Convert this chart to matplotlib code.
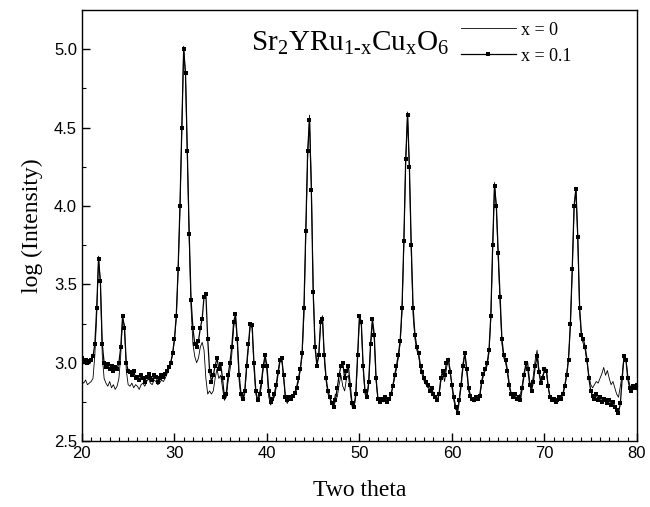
import numpy as np
import matplotlib
matplotlib.use('Agg')
import matplotlib.pyplot as plt
from matplotlib.ticker import MultipleLocator

# scan grid, 0.2 deg step
two_theta = np.round(np.arange(20.0, 80.0001, 0.2), 1)

# x = 0.1 (line with square markers)
log_i_x01 = [
    3.03, 3.01, 3.02, 3.00, 3.01, 3.02, 3.04,
    3.12, 3.35, 3.66, 3.52, 3.12, 3.00,
    2.97, 2.99, 2.96, 2.98, 2.95, 2.97, 2.96, 3.00,
    3.10, 3.30, 3.22, 3.00, 2.95,
    2.94, 2.92, 2.95, 2.90, 2.91, 2.89, 2.92, 2.90, 2.88, 2.91,
    2.93, 2.90, 2.89, 2.92, 2.91, 2.88, 2.90, 2.92, 2.91, 2.93,
    2.95, 2.97, 3.00, 3.06, 3.15, 3.30, 3.60, 4.00, 4.50, 5.00, 4.85, 4.35, 3.82, 3.40, 3.22,
    3.12, 3.10, 3.14, 3.22, 3.28, 3.42, 3.44, 3.15, 2.95, 2.88,
    2.92, 2.98, 3.03, 2.96, 2.99, 2.90, 2.78, 2.80, 2.92, 3.00,
    3.10, 3.26, 3.31, 3.15, 2.92, 2.80, 2.77, 2.82,
    2.98, 3.12, 3.25, 3.24, 3.00, 2.82, 2.76, 2.80,
    2.88, 2.98, 3.05, 2.98, 2.82, 2.75, 2.77,
    2.80, 2.86, 2.94, 3.02, 3.03, 2.92, 2.78, 2.76, 2.78, 2.77,
    2.79, 2.81, 2.84, 2.90, 2.96, 3.06, 3.35, 3.84, 4.35, 4.55,
    4.10, 3.45, 3.10, 2.98, 3.05, 3.26, 3.28, 3.05, 2.90, 2.82,
    2.78, 2.74, 2.72, 2.76, 2.84, 2.92, 2.98, 3.00, 2.90, 2.95, 2.98, 2.86, 2.74, 2.72, 2.80,
    3.05, 3.30, 3.26, 2.98, 2.82, 2.78, 2.88, 3.12, 3.28, 3.18, 2.90, 2.77, 2.75, 2.77,
    2.76, 2.78, 2.75, 2.77, 2.80, 2.85, 2.92, 2.98, 3.05, 3.14,
    3.35, 3.78, 4.30, 4.58, 4.25, 3.75, 3.35, 3.18,
    3.10, 3.06, 2.98, 2.94, 2.90, 2.88, 2.86, 2.82, 2.84, 2.80, 2.78, 2.76, 2.80,
    2.90, 2.95, 2.92, 3.00, 3.02, 2.94, 2.86, 2.78, 2.72,
    2.68, 2.76, 2.86, 2.98, 3.06, 2.96, 2.84, 2.79, 2.77, 2.76, 2.78, 2.77, 2.79,
    2.88, 2.93, 2.96, 3.00, 3.08, 3.30, 3.75, 4.13, 4.00, 3.70, 3.42,
    3.15, 3.05, 3.02, 2.95, 2.86, 2.80, 2.78, 2.80, 2.77, 2.78, 2.76, 2.84, 2.92,
    3.00, 2.96, 2.86, 2.82, 2.88, 2.98, 3.04, 2.94, 2.87, 2.90, 2.96, 2.95, 2.85, 2.78, 2.76,
    2.77, 2.75, 2.76, 2.78, 2.77, 2.80, 2.85, 2.92, 3.02, 3.25,
    3.60, 4.00, 4.11, 3.80, 3.35, 3.18, 3.15, 3.10, 3.02, 2.90,
    2.82, 2.79, 2.77, 2.80, 2.76, 2.78, 2.75, 2.77, 2.76, 2.74, 2.76, 2.73, 2.75, 2.72, 2.70, 2.68, 2.74,
    2.90, 3.04, 3.02, 2.90, 2.84, 2.82, 2.85, 2.84, 2.86,
]

# x = 0 (thin line)
log_i_x0 = [
    2.88, 2.87, 2.89, 2.86, 2.87, 2.88, 2.90,
    3.05, 3.30, 3.68, 3.50, 3.05, 2.90,
    2.87, 2.85, 2.88, 2.84, 2.86, 2.83, 2.85, 2.90,
    3.05, 3.28, 3.24, 2.95, 2.86,
    2.85, 2.87, 2.84, 2.86, 2.85, 2.83, 2.86, 2.87, 2.85, 2.88,
    2.90, 2.87, 2.86, 2.89, 2.88, 2.86, 2.87, 2.89, 2.88, 2.90,
    2.93, 2.96, 3.00, 3.05, 3.14, 3.28, 3.58, 3.98, 4.48, 5.02, 4.82, 4.30, 3.78, 3.35, 3.12,
    3.04, 3.00, 3.03, 3.10, 3.13, 3.08, 2.90, 2.80, 2.82, 2.80,
    2.82, 2.90, 2.96, 2.90, 2.92, 2.84, 2.76, 2.78, 2.88, 2.95,
    3.05, 3.22, 3.30, 3.12, 2.88, 2.78, 2.76, 2.80,
    2.95, 3.10, 3.24, 3.22, 2.96, 2.80, 2.75, 2.78,
    2.85, 2.96, 3.04, 2.95, 2.78, 2.73, 2.76,
    2.78, 2.84, 2.92, 3.00, 3.02, 2.90, 2.77, 2.74, 2.77, 2.76,
    2.78, 2.80, 2.83, 2.88, 2.95, 3.04, 3.30, 3.80, 4.30, 4.58,
    4.15, 3.48, 3.12, 2.99, 3.04, 3.24, 3.30, 3.02, 2.88, 2.80,
    2.77, 2.75, 2.74, 2.80, 2.78, 2.86, 2.92, 2.85, 2.82, 2.90, 2.92, 2.82, 2.72, 2.71, 2.78,
    3.02, 3.28, 3.24, 2.96, 2.80, 2.77, 2.86, 3.10, 3.26, 3.15, 2.88, 2.76, 2.74, 2.76,
    2.75, 2.77, 2.74, 2.76, 2.79, 2.84, 2.90, 2.96, 3.03, 3.12,
    3.32, 3.75, 4.28, 4.60, 4.22, 3.70, 3.30, 3.15,
    3.08, 3.04, 2.96, 2.92, 2.88, 2.86, 2.84, 2.85, 2.82, 2.80, 2.77, 2.76, 2.79,
    2.88, 2.94, 2.88, 2.96, 3.03, 2.96, 2.84, 2.76, 2.70,
    2.70, 2.78, 2.88, 3.00, 3.07, 2.94, 2.82, 2.78, 2.76, 2.75, 2.77, 2.76, 2.78,
    2.86, 2.92, 2.95, 2.98, 3.06, 3.28, 3.72, 4.15, 3.98, 3.66, 3.38,
    3.12, 3.03, 3.00, 2.93, 2.84, 2.80, 2.79, 2.78, 2.77, 2.79, 2.80, 2.86, 2.94,
    2.98, 3.00, 2.88, 2.84, 2.92, 3.02, 3.08, 2.96, 2.88, 2.92, 2.94, 2.96, 2.84, 2.78, 2.76,
    2.76, 2.77, 2.75, 2.77, 2.78, 2.81, 2.86, 2.93, 3.03, 3.24,
    3.58, 3.98, 4.12, 3.78, 3.32, 3.16, 3.12, 3.08, 3.00, 2.92,
    2.86, 2.84, 2.86, 2.88, 2.87, 2.90, 2.93, 2.97, 2.92, 2.95, 2.90, 2.86, 2.88, 2.84, 2.80, 2.78, 2.85,
    2.92, 3.05, 3.03, 2.92, 2.86, 2.83, 2.86, 2.85, 2.87,
]

labels = ['x = 0', 'x = 0.1']
formula = r'Sr$_2$YRu$_{1\text{-}x}$Cu$_x$O$_6$'

plt.rcParams['mathtext.fontset'] = 'custom'
plt.rcParams['mathtext.rm'] = 'Liberation Serif'
plt.rcParams['mathtext.it'] = 'Liberation Serif'
plt.rcParams['mathtext.default'] = 'rm'

serif = 'Liberation Serif'
sans = 'Liberation Sans'

fig = plt.figure(figsize=(6.5, 5.07), dpi=100)
ax = fig.add_axes([0.126, 0.130, 0.854, 0.850])

ax.plot(two_theta, log_i_x0, color='black', lw=0.6, label=labels[0])
ax.plot(two_theta, log_i_x01, color='black', lw=0.9, marker='s', markersize=3.0,
        markeredgewidth=0, label=labels[1])

ax.set_xlim(20, 80)
ax.set_ylim(2.5, 5.25)
ax.xaxis.set_major_locator(MultipleLocator(10))
ax.xaxis.set_minor_locator(MultipleLocator(1))
ax.yaxis.set_major_locator(MultipleLocator(0.5))
ax.yaxis.set_minor_locator(MultipleLocator(0.25))
ax.tick_params(which='both', direction='in', top=False, right=False)
ax.tick_params(which='major', length=6, width=1)
ax.tick_params(which='minor', length=3, width=0.8)
for lab in ax.get_xticklabels() + ax.get_yticklabels():
    lab.set_fontfamily(sans)
    lab.set_fontsize(12)
for sp in ax.spines.values():
    sp.set_linewidth(1.0)

ax.set_xlabel('Two theta', family=serif, fontsize=17, labelpad=14)
ax.set_ylabel('log (Intensity)', family=serif, fontsize=17, labelpad=8)

ax.text(0.305, 0.955, formula, transform=ax.transAxes, family=serif,
        fontsize=21, va='top', ha='left')

ax.legend(loc='upper right', bbox_to_anchor=(0.895, 0.99), frameon=False,
          prop={'family': serif, 'size': 13}, handlelength=3.0, numpoints=1,
          handletextpad=0.3, labelspacing=0.5, borderaxespad=0)

fig.savefig('out.png', dpi=100)
